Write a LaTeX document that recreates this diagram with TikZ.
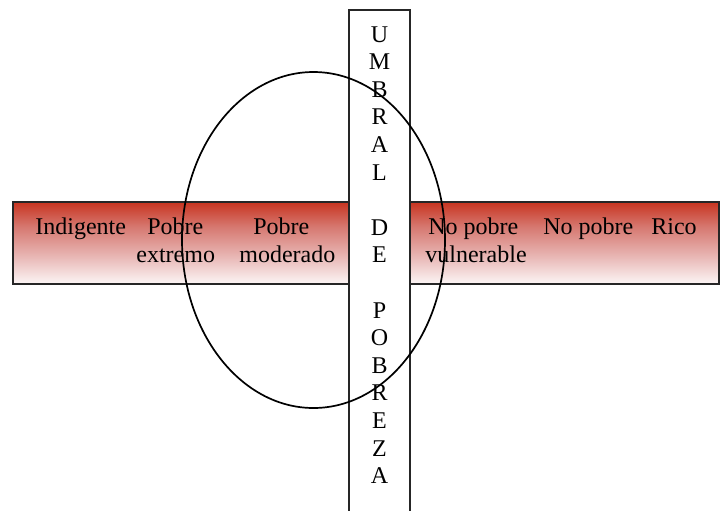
\documentclass[tikz,border=0pt]{standalone}
\usepackage{fontspec}
\setmainfont{Liberation Serif}
\usetikzlibrary{shapes.geometric}
\definecolor{barred}{RGB}{200,52,32}
\definecolor{barupper}{RGB}{214,120,112}
\definecolor{barmid}{RGB}{232,182,180}
\definecolor{barlow}{RGB}{252,246,246}
\pgfdeclareverticalshading{redfade}{100bp}{color(0bp)=(barlow); color(25bp)=(barlow); color(42bp)=(barmid); color(60bp)=(barupper); color(75bp)=(barred); color(100bp)=(barred)}
\begin{document}
\begin{tikzpicture}[x=0.5pt,y=-0.5pt,
  txt/.style={font=\fontsize{12}{13.8}\selectfont, inner sep=0pt, anchor=base west},
  letter/.style={font=\fontsize{12}{13.8}\selectfont, inner sep=0pt, anchor=base},
  barbox/.style={draw=black!85, line width=1pt, shading=redfade, inner sep=0pt},
  colbox/.style={draw=black!85, line width=1pt, fill=white, inner sep=0pt},
  ring/.style={draw=black, line width=0.85pt}]
\useasboundingbox (0,0) rectangle (722,510);
\clip (0,0) rectangle (722,510);
% horizontal bar
\node[barbox, minimum width=353pt, minimum height=41pt] (bar) at (366,243) {};
% vertical column (behind ellipse, over bar)
\node[colbox, minimum width=30.5pt, minimum height=252pt] (col) at (379.5,262) {};
% bar labels
\node[txt] (ind) at (35,234) {Indigente};
\node[txt] (pe1) at (147,234) {Pobre};
\node[txt] (pe2) at (136,262) {extremo};
\node[txt] (pm1) at (253,234) {Pobre};
\node[txt] (pm2) at (239,262) {moderado};
\node[txt] (nv1) at (428,234) {No pobre};
\node[txt] (nv2) at (425,262) {vulnerable};
\node[txt] (np) at (543,234) {No pobre};
\node[txt] (ri) at (651,234) {Rico};
% vertical letters
\foreach \l/\i [count=\k] in {U/0,M/1,B/2,R/3,A/4,L/5,D/7,E/8,P/10,O/11,B/12,R/13,E/14,Z/15,A/16}
  \node[letter] (v\k) at (379.5,{42+27.6*\i}) {\l};
% ellipse
\node[ring, ellipse, minimum width=131.5pt, minimum height=168pt, inner sep=0pt] (ell) at (313.5,240) {};
\end{tikzpicture}
\end{document}
